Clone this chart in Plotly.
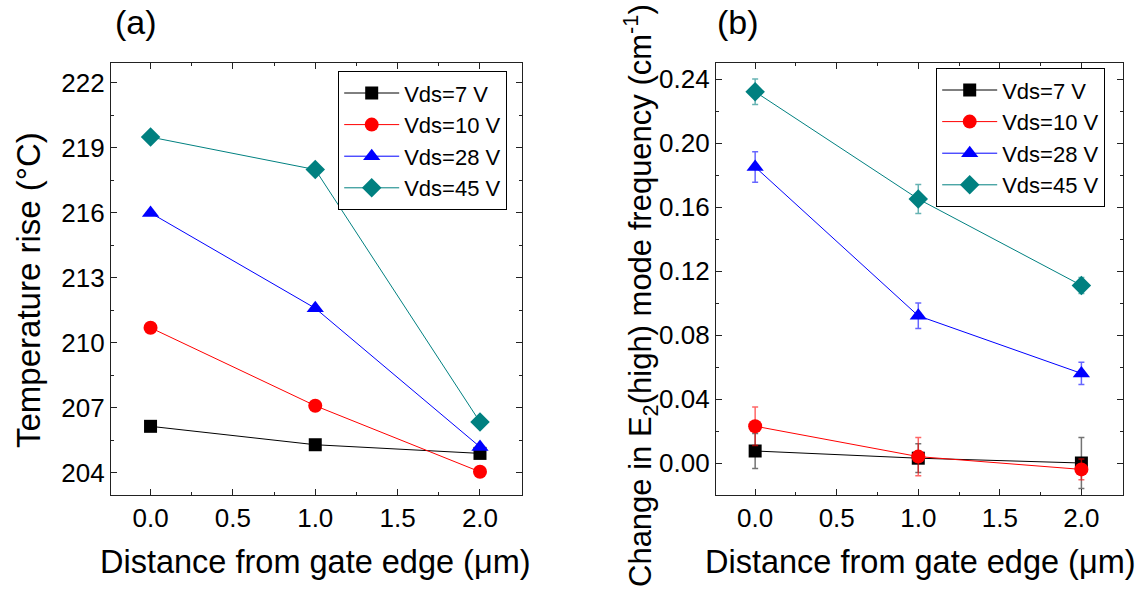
import plotly.graph_objects as go

# Distance from gate edge (um)
distance = [0.0, 1.0, 2.0]

series_names = ["Vds=7 V", "Vds=10 V", "Vds=28 V", "Vds=45 V"]

# (a) temperature rise (deg C)
temp_7 = [206.15, 205.3, 204.9]
temp_10 = [210.7, 207.1, 204.05]
temp_28 = [216.0, 211.6, 205.2]
temp_45 = [219.5, 218.0, 206.35]

# (b) change in E2(high) mode frequency (cm-1) with error bars
shift_7 = [0.0075, 0.003, 0.0]
shift_7_err = [0.011, 0.009, 0.016]
shift_10 = [0.023, 0.004, -0.004]
shift_10_err = [0.012, 0.012, 0.0065]
shift_28 = [0.185, 0.092, 0.056]
shift_28_err = [0.0095, 0.008, 0.007]
shift_45 = [0.232, 0.165, 0.111]
shift_45_err = [0.008, 0.009, 0.005]

colors = ["#000000", "#ff0000", "#0000ff", "#008080"]
err_colors = ["rgba(0,0,0,0.55)", "rgba(255,0,0,0.6)", "rgba(0,0,255,0.6)", "rgba(0,128,128,0.6)"]
symbols = ["square", "circle", "triangle-up", "diamond"]
sizes = [13, 14, 15, 15]

FONT = "Arial, Liberation Sans, sans-serif"
W, H = 1144, 590

fig = go.Figure()

temps = [temp_7, temp_10, temp_28, temp_45]
for name, ys, c, s, sz in zip(series_names, temps, colors, symbols, sizes):
    fig.add_trace(go.Scatter(
        x=distance, y=ys, name=name, mode="lines+markers",
        line=dict(color=c, width=1),
        marker=dict(symbol=s, size=sz, color=c, line=dict(width=0)),
        xaxis="x", yaxis="y", legend="legend",
    ))

shifts = [shift_7, shift_10, shift_28, shift_45]
errs = [shift_7_err, shift_10_err, shift_28_err, shift_45_err]
for name, ys, es, c, ec, s, sz in zip(series_names, shifts, errs, colors, err_colors, symbols, sizes):
    fig.add_trace(go.Scatter(
        x=distance, y=ys, name=name, mode="lines+markers",
        line=dict(color=c, width=1),
        marker=dict(symbol=s, size=sz, color=c, line=dict(width=0)),
        error_y=dict(type="data", array=es, visible=True, color=ec, thickness=1.5, width=3),
        xaxis="x2", yaxis="y2", legend="legend2",
    ))

axis_common = dict(
    showline=True, linecolor="#222", linewidth=1.3, mirror="allticks",
    ticks="inside", ticklen=6, tickwidth=1, tickcolor="#222",
    showgrid=False, zeroline=False,
    tickfont=dict(family=FONT, size=26, color="#000"),
)

xkw = dict(axis_common, range=[-0.24, 2.255], dtick=0.5, tick0=0, tickformat=".1f",
           minor=dict(ticks="inside", ticklen=3, dtick=0.25, tickcolor="#222"))

legend_common = dict(
    bgcolor="white", bordercolor="#000", borderwidth=1.2,
    font=dict(family=FONT, size=22, color="#000"),
    xanchor="left", yanchor="top", itemwidth=55, tracegroupgap=0,
)


def label(text, x, y, size, angle=0):
    """Free text placed by pixel position (centre of the text)."""
    return dict(text=text, x=x / W, y=1 - y / H, xref="paper", yref="paper",
                xanchor="center", yanchor="middle", showarrow=False,
                textangle=angle, font=dict(family=FONT, size=size, color="#000"))


fig.update_layout(
    width=W, height=H,
    margin=dict(l=0, r=0, t=0, b=0),
    paper_bgcolor="white", plot_bgcolor="white",
    font=dict(family=FONT, color="#000"),
    xaxis=dict(xkw, domain=[111 / W, 522 / W], anchor="y"),
    yaxis=dict(axis_common, domain=[1 - 495 / H, 1 - 63 / H], anchor="x",
               range=[202.98, 222.92], dtick=3, tick0=204,
               minor=dict(ticks="inside", ticklen=3, dtick=1.5, tickcolor="#222")),
    xaxis2=dict(xkw, domain=[716 / W, 1123 / W], anchor="y2"),
    yaxis2=dict(axis_common, domain=[1 - 495 / H, 1 - 63 / H], anchor="x2",
                range=[-0.02, 0.25], dtick=0.04, tick0=0, tickformat=".2f",
                minor=dict(ticks="inside", ticklen=3, dtick=0.02, tickcolor="#222")),
    legend=dict(legend_common, x=338 / W, y=1 - 71 / H),
    legend2=dict(legend_common, x=936 / W, y=1 - 68 / H),
    annotations=[
        label("(a)", 136, 22, 34),
        label("(b)", 738, 22, 34),
        label("Distance from gate edge (\u03bcm)", 315, 562, 32.5),
        label("Distance from gate edge (\u03bcm)", 920, 562, 32.5),
        label("Temperature rise (\u00b0C)", 28, 290, 33, -90),
        label("Change in E<sub>2</sub>(high) mode frequency (cm<sup>-1</sup>)", 640, 296, 31, -90),
    ],
)

fig.write_html("out.html")
